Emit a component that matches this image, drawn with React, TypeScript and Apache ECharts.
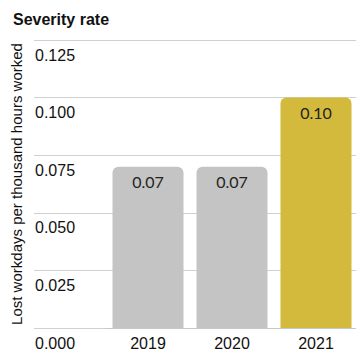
import React, { useEffect, useRef } from "react";
import * as echarts from "echarts";

const title = "Severity rate";
const yAxisName = "Lost workdays per thousand hours worked";
const categories = ["2019", "2020", "2021"];
const values = [0.07, 0.07, 0.1];
const valueLabels = ["0.07", "0.07", "0.10"];
const barColors = ["#c4c4c4", "#c4c4c4", "#d4ba3c"];
const yTicks = { min: 0, max: 0.125, interval: 0.025 };

export default function App() {
  const ref = useRef<HTMLDivElement>(null);
  useEffect(() => {
    if (!ref.current) return;
    const chart = echarts.init(ref.current, undefined, { renderer: "svg" });
    chart.setOption({
      animation: false,
      backgroundColor: "#ffffff",
      title: {
        text: title,
        left: 8,
        top: 6,
        textStyle: {
          fontFamily: "Liberation Sans",
          fontWeight: "bold",
          fontSize: 16,
          color: "#111111",
        },
      },
      grid: [
        { left: 34, right: 6, top: 40, bottom: 30 },
        { left: 106, right: 6, top: 40, bottom: 30 },
      ],
      xAxis: [
        { type: "value", gridIndex: 0, show: false, min: 0, max: 1 },
        {
          type: "category",
          gridIndex: 1,
          data: categories,
          axisLine: { show: true, lineStyle: { color: "#c8c8c8", width: 1 } },
          axisTick: { show: false },
          axisLabel: {
            margin: 7,
            fontFamily: "Liberation Sans",
            fontSize: 16,
            color: "#111111",
          },
        },
      ],
      yAxis: [
        {
          type: "value",
          gridIndex: 0,
          min: yTicks.min,
          max: yTicks.max,
          interval: yTicks.interval,
          name: yAxisName,
          nameLocation: "middle",
          nameRotate: 90,
          nameGap: 9,
          nameTextStyle: {
            fontFamily: "Liberation Sans",
            fontSize: 15,
            color: "#111111",
          },
          axisLine: { show: false },
          axisTick: { show: false },
          splitLine: { show: true, lineStyle: { color: "#d0d0d0", width: 1 } },
          axisLabel: {
            inside: true,
            margin: 1,
            align: "left",
            verticalAlign: "top",
            padding: [7, 0, 0, 0],
            fontFamily: "Liberation Sans",
            fontSize: 16,
            color: "#111111",
            formatter: (v: number) => v.toFixed(3),
          },
        },
        {
          type: "value",
          gridIndex: 1,
          min: yTicks.min,
          max: yTicks.max,
          interval: yTicks.interval,
          show: false,
          splitLine: { show: false },
        },
      ],
      series: [
        {
          type: "bar",
          xAxisIndex: 1,
          yAxisIndex: 1,
          barWidth: 71,
          data: values.map((v, i) => ({
            value: v,
            itemStyle: { color: barColors[i], borderRadius: [6, 6, 0, 0] },
            label: { formatter: valueLabels[i] },
          })),
          label: {
            show: true,
            position: "insideTop",
            distance: 7,
            fontFamily: "Lato",
            fontSize: 16,
            color: "#222222",
          },
        },
      ],
    });
    return () => chart.dispose();
  }, []);
  return <div ref={ref} style={{ width: 364, height: 358, margin: -8 }} />;
}
